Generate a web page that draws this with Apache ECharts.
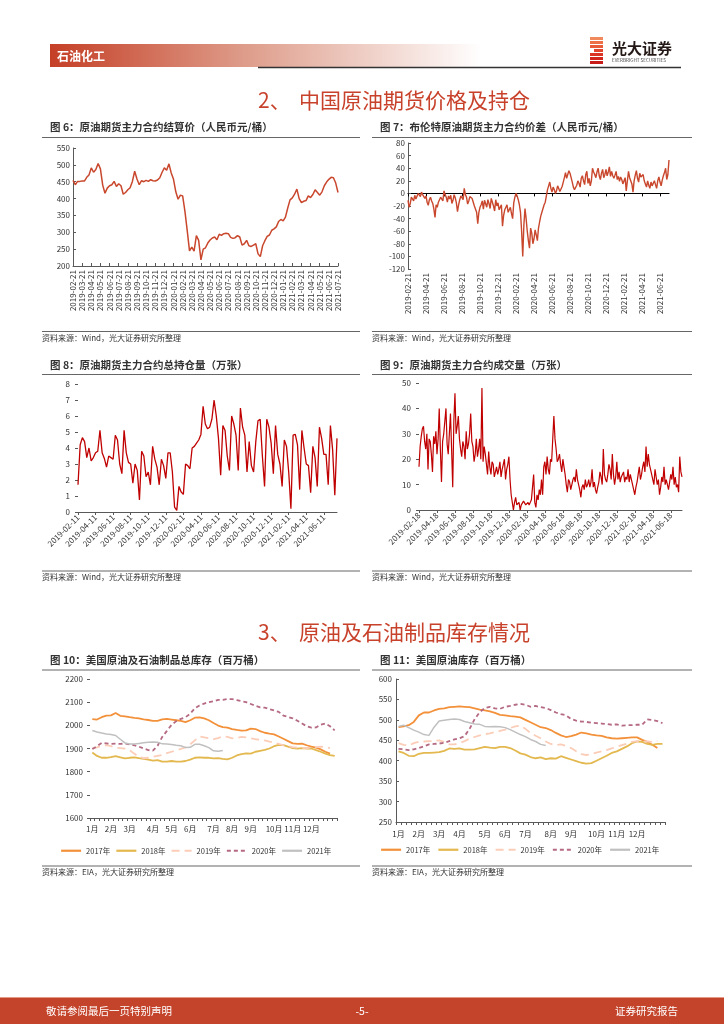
<!DOCTYPE html>
<html><head><meta charset="utf-8">
<script src="https://cdn.jsdelivr.net/npm/echarts@6/dist/echarts.min.js"></script>
<style>html,body{margin:0;padding:0;background:#fff}#c{width:724px;height:1024px}</style>
</head><body><div id="c"></div>
<script>
const FONT = '"Noto Sans CJK SC", "Noto Sans", sans-serif';

// ---------- Chart 6: settlement price (4 samples per month) ----------
const c6Labels = ['2019-02-21','2019-03-21','2019-04-21','2019-05-21','2019-06-21','2019-07-21','2019-08-21','2019-09-21','2019-10-21','2019-11-21','2019-12-21','2020-01-21','2020-02-21','2020-03-21','2020-04-21','2020-05-21','2020-06-21','2020-07-21','2020-08-21','2020-09-21','2020-10-21','2020-11-21','2020-12-21','2021-01-21','2021-02-21','2021-03-21','2021-04-21','2021-05-21','2021-06-21','2021-07-21'];
const c6Values = [454,441,451,451,452,452,463,470,491,478,486,504,488,440,416,431,438,441,451,436,444,438,413,418,426,432,451,481,458,441,453,450,454,451,456,453,452,455,462,478,491,484,503,476,457,420,398,410,408,362,305,245,256,244,290,276,218,250,254,268,277,283,286,278,294,291,296,297,296,285,282,284,290,286,262,266,276,260,258,262,266,236,228,260,275,288,292,306,310,316,332,338,334,345,372,396,402,413,428,400,388,392,394,408,403,412,426,418,410,420,438,449,457,463,462,446,418];

// ---------- Chart 7: Brent spread (8 samples per month) ----------
const c7Labels = ['2019-02-21','2019-04-21','2019-06-21','2019-08-21','2019-10-21','2019-12-21','2020-02-21','2020-04-21','2020-06-21','2020-08-21','2020-10-21','2020-12-21','2021-02-21','2021-04-21','2021-06-21'];
const c7Values = [
-11,-22,-16,-6,-8,-12,-3,-9,-6,0,-3,-5,2,-2,1,-8,-4,-14,-19,-10,
-6,-12,-16,-25,-38,-18,-22,-14,-10,-6,-3,-12,4,-2,-6,-14,-4,-9,-3,-16,
-11,-2,-7,-15,-29,-18,-10,-4,-1,-10,8,-2,-6,-17,-12,-5,-3,-8,-14,-20,
-23,-30,-48,-30,-22,-18,-12,-25,-11,-14,-22,-10,-16,-24,-8,-14,-20,-28,-10,-20,
-15,-26,-24,-18,-52,-35,-26,-22,-18,-30,-28,-22,-32,-40,-15,-6,0,-4,-10,-18,
-30,-60,-100,-50,-24,-40,-60,-75,-87,-55,-63,-80,-72,-58,-66,-75,-55,-45,-36,-30,
-24,-18,-14,-4,6,12,18,8,2,10,6,0,4,12,9,3,6,11,18,25,
33,24,30,36,32,25,18,10,6,9,13,20,16,10,24,28,20,14,30,35,
16,24,12,20,40,34,30,25,34,40,28,22,32,38,25,30,38,28,34,42,
27,35,28,24,29,35,22,27,19,26,22,15,18,25,4,20,35,25,28,15,
2,20,29,36,24,18,32,26,24,30,20,15,10,20,13,8,18,12,13,20,
14,8,20,26,18,12,21,28,33,40,22,30,53];

// ---------- Chart 8: open interest ----------
const c8Labels = ['2019-02-11','2019-04-11','2019-06-11','2019-08-11','2019-10-11','2019-12-11','2020-02-11','2020-04-11','2020-06-11','2020-08-11','2020-10-11','2020-12-11','2021-02-11','2021-04-11','2021-06-11'];
const c8Values = [1.7,4.2,4.65,4.4,3.4,4.0,3.2,3.4,3.7,3.8,5.1,3.7,3.35,2.8,3.5,3.4,3.3,4.8,4.5,3.0,2.4,5.1,3.7,3.1,3.0,1.8,3.0,2.6,0.75,3.8,3.5,2.2,2.5,1.7,4.1,3.3,2.8,1.7,3.3,2.9,2.1,3.7,3.7,2.5,0.3,0.1,1.6,1.25,1.1,3.0,2.9,2.7,4.0,4.1,4.3,4.5,4.85,6.6,5.5,5.2,5.3,5.8,7.0,6.0,4.6,2.3,5.4,5.1,3.5,2.6,6.0,5.5,4.8,2.6,6.5,5.3,4.8,2.5,4.4,2.9,2.5,4.4,5.7,5.8,3.5,1.6,5.8,5.3,4.3,2.4,5.4,3.6,3.0,1.6,4.5,4.1,2.5,0.2,4.8,4.85,4.2,1.4,5.1,4.0,3.0,2.9,1.2,4.1,3.4,1.6,5.3,4.6,3.6,3.6,1.7,5.4,3.9,1.05,4.6];

// ---------- Chart 9: volume (8 samples per month) ----------
const c9Labels = ['2019-02-18','2019-04-18','2019-06-18','2019-08-18','2019-10-18','2019-12-18','2020-02-18','2020-04-18','2020-06-18','2020-08-18','2020-10-18','2020-12-18','2021-02-18','2021-04-18','2021-06-18'];
const c9Values = [
17,25,29,32,33,27,24,30,16,28,27,22,15,29,26,31,22,28,40,24,
11,27,30,35,40,26,22,30,38,24,9,35,46,30,33,37,28,24,21,27,
25,20,31,24,26,30,38,27,25,19,22,28,21,24,28,20,48,19,25,22,
18,14,23,17,14,19,18,13,15,17,14,16,19,13,16,18,20,12,16,18,
21,12,6,3,0,3,5,2,2,3,0,2,2.5,3.5,3,2,2.5,3,2,3,
4,9,14,3,1,6,4,8,6,12,6,17,19,14,21,16,14,20,19,28,
37,28,24,19,20,22,18,15,20,17,14,10,7,12,11,8,10,12,13,11,
16,12,10,8,5,9,10,8,12,9,10,12,9,11,16,9,11,8,6.5,9,
11,15,13,10,24,14,12,11,14,18,16,12,22,14,10,13,19,12,15,11,
13,14,15,11,13,12,16,11,14,12,10,8,6,9,11,14,17,12,14,17,
19,15,25,17,22,18,16,14,12,10,16,13,10,12,6,9,13,11,17,10,
12,10,8,11,14,12,17,10,13,9,10,7,21,15,13];

// ---------- Charts 10/11: weekly inventories ----------
const yearNames = ['2017年','2018年','2019年','2020年','2021年'];
const monthLabels = ['1月','2月','3月','4月','5月','6月','7月','8月','9月','10月','11月','12月'];
const c10MonthWeeks = [0,4,8,13,17,21,26,30,34,39,43,47];
const c11MonthWeeks = [0,4,8,12,17,21,25,30,34,39,43,47];
const weekCount = 53;

const c10_2017 = [2027,2025,2035,2042,2043,2053,2041,2039,2035,2032,2030,2026,2023,2019,2019,2026,2028,2025,2022,2019,2014,2022,2033,2034,2030,2022,2010,1999,1992,1990,1984,1980,1977,1978,1986,1984,1975,1968,1964,1961,1952,1942,1932,1922,1920,1921,1914,1908,1904,1896,1886,1878];
const c10_2018 = [1883,1868,1860,1860,1863,1867,1862,1857,1860,1862,1858,1855,1852,1848,1850,1843,1843,1846,1843,1843,1846,1852,1860,1862,1860,1860,1857,1858,1855,1853,1860,1870,1876,1879,1878,1886,1890,1894,1900,1910,1916,1915,1908,1902,1899,1902,1900,1900,1893,1886,1878,1871,1868];
const c10_2019 = [1899,1905,1912,1915,1910,1903,1902,1899,1893,1878,1864,1858,1860,1864,1868,1872,1880,1886,1892,1898,1905,1918,1935,1952,1948,1944,1940,1945,1953,1950,1944,1946,1950,1948,1944,1940,1938,1935,1930,1926,1920,1914,1910,1906,1904,1903,1902,1905,1906,1908,1906,1902];
const c10_2020 = [1898,1910,1924,1922,1920,1921,1920,1921,1918,1914,1908,1900,1893,1891,1912,1950,1976,2002,2018,2028,2035,2050,2074,2086,2094,2100,2104,2110,2110,2114,2113,2109,2104,2100,2092,2084,2078,2076,2070,2064,2058,2042,2036,2030,2020,2008,1996,1990,1991,2003,2008,1996,1978];
const c10_2021 = [1978,1971,1967,1963,1960,1956,1940,1924,1919,1919,1922,1925,1927,1928,1927,1920,1919,1917,1914,1912,1904,1905,1918,1918,1912,1904,1890,1888,1891];

const c11_2017 = [482,484,487,495,511,518,518,523,527,528,531,532,533,532,531,528,525,523,521,517,512,511,509,508,506,500,494,488,482,480,475,468,462,458,460,464,469,467,464,462,461,457,455,454,455,456,457,457,451,446,439,431];
const c11_2018 = [423,419,412,411,417,419,419,420,421,424,430,429,430,427,427,428,431,434,432,431,434,434,431,425,418,415,409,406,408,404,406,405,411,407,403,399,395,393,394,400,406,412,419,423,429,435,443,447,446,441,439,441,441];
const c11_2019 = [443,439,437,443,446,447,448,448,450,446,440,440,443,448,454,458,462,465,467,470,473,476,480,484,486,478,468,461,455,447,441,438,440,436,431,423,416,414,416,420,423,426,430,434,438,442,446,448,447,447,446,448];
const c11_2020 = [429,428,426,428,431,435,440,441,442,444,448,452,455,460,478,502,519,529,532,528,527,532,534,537,539,537,532,534,531,529,524,518,514,511,502,498,496,495,493,492,491,490,488,489,486,487,487,488,488,501,500,497,492];
const c11_2021 = [484,487,481,475,470,464,462,482,497,499,501,502,501,496,493,490,489,484,483,484,483,481,476,470,464,459,452,447,440,437];

// ---------- styles ----------
const invColors = ['#F3913B','#E3B84E','#FBCDB8','#B56A82','#C0C0C0'];
const invDash = ['solid','solid',[8,5],[4,3],'solid'];
const invWidth = [1.8,1.8,1.8,1.8,1.5];
const AX = '#595959', LBL = '#333';

function idxCats(n){ return Array.from({length:n},(_,i)=>String(i)); }

function dateAxis(grid, n, step, labels, rotate, opts){
  const o = {
    type:'category', gridIndex:grid, data:idxCats(n), boundaryGap:false,
    axisLine:{show:true, onZero:false, lineStyle:{color:AX, width:1}},
    axisTick:{show:true, interval:step-1, length:3, inside:true, lineStyle:{color:AX}},
    axisLabel:{interval:step-1, rotate:rotate, fontSize:8, color:LBL, margin:4, fontFamily:FONT,
      formatter:(v,i)=> (i%step===0 && labels[i/step]) ? labels[i/step] : ''},
    splitLine:{show:false}
  };
  return Object.assign(o, opts||{});
}
function weekAxis(grid, weeks, margin){
  return {
    type:'category', gridIndex:grid, data:idxCats(weekCount), boundaryGap:true,
    axisLine:{show:true, onZero:false, lineStyle:{color:AX}},
    axisTick:{show:true, interval:0, length:3, lineStyle:{color:AX}},
    axisLabel:{interval:(i)=>weeks.indexOf(i)>=0, fontSize:8, color:LBL, margin:margin, fontFamily:FONT,
      formatter:(v,i)=>{const k=weeks.indexOf(i); return k>=0?monthLabels[k]:'';}},
    splitLine:{show:false}
  };
}
function valAxis(grid, min, max, interval, showLine, margin, inside){
  return {type:'value', gridIndex:grid, min, max, interval,
    axisLine:{show:showLine, lineStyle:{color:AX}},
    axisTick:{show:true, length:3, inside:inside, lineStyle:{color:AX}},
    axisLabel:{fontSize:8, color:LBL, margin:margin, fontFamily:FONT, formatter:(v)=>String(v)},
    splitLine:{show:false}};
}
function lineSeries(x, y, data, color, width, extra){
  return Object.assign({type:'line', xAxisIndex:x, yAxisIndex:y, data, symbol:'none', showSymbol:false,
    lineStyle:{color, width}, itemStyle:{color}, silent:true}, extra||{});
}

// ---------- page decoration ----------
function T(text, x, y, o){ return {type:'text', x, y, silent:true, style:Object.assign({text, fill:'#333', fontSize:10.5, fontFamily:FONT, verticalAlign:'middle', align:'left'}, o||{})}; }
function L(x1,y1,x2,y2,stroke,w){ return {type:'line', silent:true, shape:{x1,y1,x2,y2}, style:{stroke, lineWidth:w}}; }

const G = [];
G.push({type:'rect', silent:true, shape:{x:50,y:44,width:432,height:23}, style:{fill:{type:'linear',x:0,y:0,x2:1,y2:0,colorStops:[{offset:0,color:'#C53F26'},{offset:0.45,color:'#DE9C8A'},{offset:1,color:'#ffffff'}]}}});
G.push(T('石油化工', 57, 56, {fill:'#fff', fontSize:12, fontWeight:'bold'}));
G.push(L(258, 67.5, 681, 67.5, '#333', 1.5));
const stripeCols = ['#F08A5D','#EE7047','#E95A38','#E2452C','#DA3424','#D2261D','#C81C18'];
stripeCols.forEach((c,k)=>{
  const off = (k===3)? 4 : 0;
  G.push({type:'rect', silent:true, shape:{x:590+off, y:37+k*4, width:13-off, height:3}, style:{fill:c}});
});
G.push(T('光大证券', 612, 48, {fill:'#231815', fontSize:15, fontWeight:'bold'}));
G.push(T('EVERBRIGHT SECURITIES', 612, 60, {fill:'#444', fontSize:4.6}));

G.push(T('2、', 258, 100, {fill:'#C8412B', fontSize:21}));
G.push(T('中国原油期货价格及持仓', 299, 100, {fill:'#C8412B', fontSize:21}));
G.push(T('3、', 258, 632, {fill:'#C8412B', fontSize:21}));
G.push(T('原油及石油制品库存情况', 299, 632, {fill:'#C8412B', fontSize:21}));

const panels = [
  {t:'图 6：原油期货主力合约结算价（人民币元/桶）', x:50, lx:42, rx:360, ty:127, ly:137.5, sy:331.5, src:'资料来源：Wind，光大证券研究所整理'},
  {t:'图 7：布伦特原油期货主力合约价差（人民币元/桶）', x:380, lx:372, rx:692, ty:127, ly:137.5, sy:331.5, src:'资料来源：Wind，光大证券研究所整理'},
  {t:'图 8：原油期货主力合约总持仓量（万张）', x:50, lx:42, rx:360, ty:365, ly:374.5, sy:571, src:'资料来源：Wind，光大证券研究所整理'},
  {t:'图 9：原油期货主力合约成交量（万张）', x:380, lx:372, rx:692, ty:365, ly:374.5, sy:571, src:'资料来源：Wind，光大证券研究所整理'},
  {t:'图 10：美国原油及石油制品总库存（百万桶）', x:50, lx:42, rx:360, ty:660, ly:670, sy:866, src:'资料来源：EIA，光大证券研究所整理'},
  {t:'图 11：美国原油库存（百万桶）', x:380, lx:372, rx:692, ty:660, ly:670, sy:866, src:'资料来源：EIA，光大证券研究所整理'}
];
panels.forEach(p=>{
  G.push(T(p.t, p.x, p.ty, {fontWeight:'bold', fill:'#333'}));
  G.push(L(p.lx, p.ly, p.rx, p.ly, '#666', 1));
  G.push(L(p.lx, p.sy, p.rx, p.sy, '#666', 1));
  G.push(T(p.src, p.lx, p.sy+6, {fontSize:8, fill:'#333'}));
});

G.push({type:'rect', silent:true, shape:{x:0,y:997,width:724,height:1}, style:{fill:'#E59A85'}});
G.push({type:'rect', silent:true, shape:{x:0,y:998,width:724,height:26}, style:{fill:'#C4432B'}});
G.push(T('敬请参阅最后一页特别声明', 46, 1011, {fill:'#fff', fontSize:10.5}));
G.push(T('-5-', 362, 1011, {fill:'#fff', fontSize:10.5, align:'center'}));
G.push(T('证券研究报告', 678, 1011, {fill:'#fff', fontSize:10.5, align:'right'}));

// ---------- option ----------
const c10Data = [c10_2017,c10_2018,c10_2019,c10_2020,c10_2021];
const c11Data = [c11_2017,c11_2018,c11_2019,c11_2020,c11_2021];
const series = [
  lineSeries(0,0,c6Values,'#C9472D',1.5),
  lineSeries(1,1,c7Values,'#C9472D',1.4),
  lineSeries(3,2,c8Values,'#C00000',1.3),
  lineSeries(4,3,c9Values,'#C00000',1.2)
];
yearNames.forEach((n,k)=>{
  series.push(lineSeries(5,4,c10Data[k],invColors[k],invWidth[k],{name:n, lineStyle:{color:invColors[k],width:invWidth[k],type:invDash[k]}}));
});
yearNames.forEach((n,k)=>{
  series.push(lineSeries(6,5,c11Data[k],invColors[k],invWidth[k],{name:n, lineStyle:{color:invColors[k],width:invWidth[k],type:invDash[k]}}));
});

const legendBase = {data:yearNames, orient:'horizontal', itemWidth:20, itemHeight:8, selectedMode:false,
  itemStyle:{opacity:0}, lineStyle:{width:2.2},
  textStyle:{fontSize:7.5, color:'#333', fontFamily:FONT}};

const option = {
  animation:false,
  backgroundColor:'#ffffff',
  textStyle:{fontFamily:FONT},
  grid:[
    {left:73, top:148, width:265, height:118},
    {left:408, top:143, width:261, height:126},
    {left:78, top:384, width:259, height:128},
    {left:419, top:383, width:263, height:127},
    {left:90, top:679, width:247, height:139},
    {left:396, top:679, width:269, height:143}
  ],
  xAxis:[
    dateAxis(0, c6Values.length, 4, c6Labels, 90),
    dateAxis(1, c7Values.length, 16, c7Labels, 90, {axisLine:{show:false, onZero:false}, axisTick:{show:false}}),
    {type:'category', gridIndex:1, data:idxCats(c7Values.length), boundaryGap:false, position:'top',
      axisLine:{show:true, onZero:true, lineStyle:{color:'#000', width:1.2}},
      axisTick:{show:true, interval:15, length:3, inside:true, lineStyle:{color:'#000'}},
      axisLabel:{show:false}, splitLine:{show:false}},
    dateAxis(2, c8Values.length, 8, c8Labels, 45, {axisTick:{show:true, interval:7, length:3, lineStyle:{color:AX}}}),
    dateAxis(3, c9Values.length, 16, c9Labels, 45, {axisTick:{show:true, interval:15, length:3, lineStyle:{color:AX}}}),
    weekAxis(4, c10MonthWeeks, 7),
    weekAxis(5, c11MonthWeeks, 8)
  ],
  yAxis:[
    valAxis(0, 200, 550, 50, true, 3, true),
    valAxis(1, -120, 80, 20, true, 3, true),
    valAxis(2, 0, 8, 1, false, 8, false),
    valAxis(3, 0, 50, 10, false, 8, false),
    valAxis(4, 1600, 2200, 100, false, 7, false),
    valAxis(5, 250, 600, 50, true, 4, true)
  ],
  legend:[
    Object.assign({left:55, top:842, itemGap:5}, legendBase),
    Object.assign({left:375, top:841, itemGap:7}, legendBase)
  ],
  series,
  graphic:G
};

const chart = echarts.init(document.getElementById('c'), null, {renderer:'canvas', width:724, height:1024});
chart.setOption(option);
</script>
</body></html>
